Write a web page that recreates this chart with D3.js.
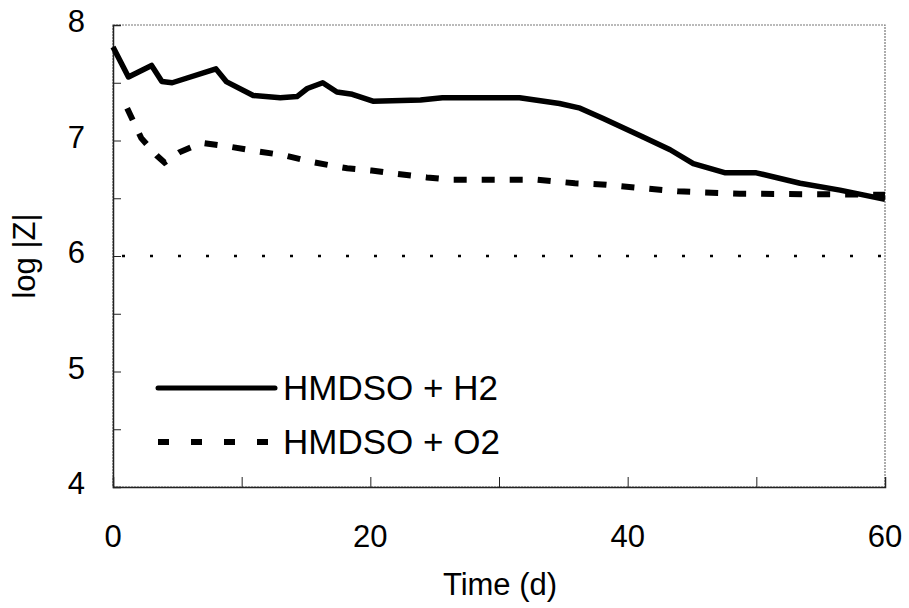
<!DOCTYPE html>
<html>
<head>
<meta charset="utf-8">
<script src="https://cdn.jsdelivr.net/npm/d3@7"></script>
<style>
  body { margin: 0; background: #fff; }
  svg text { font-family: "Liberation Sans", Arial, sans-serif; fill: #000; }
</style>
</head>
<body>
<div class="svg-container"></div>
<script>
'use strict';

// data
var daysH2 = [0, 1.2, 3.0, 3.8, 4.6, 8.0, 8.8, 10.9, 13.0, 14.3, 15.1, 16.3, 17.4, 18.6, 20.2,
              23.9, 25.6, 31.6, 34.7, 36.3, 38.1, 41.2, 43.3, 45.1, 47.6, 50, 53.4, 56.5, 60];
var logZH2 = [7.81, 7.55, 7.65, 7.51, 7.50, 7.62, 7.51, 7.39, 7.37, 7.38, 7.45, 7.50, 7.42, 7.40, 7.34,
              7.35, 7.37, 7.37, 7.32, 7.28, 7.19, 7.03, 6.92, 6.80, 6.72, 6.72, 6.63, 6.57, 6.49];
var daysO2 = [1.1, 2.2, 3.4, 4.0, 5.2, 6.9, 8.9, 11.0, 13.4, 15.2, 17.1, 18.2, 20.1, 22.1, 24.4,
              26.3, 33.0, 35.9, 38.0, 40.9, 43.9, 46.0, 48.7, 60];
var logZO2 = [7.28, 7.02, 6.87, 6.81, 6.90, 6.98, 6.95, 6.91, 6.87, 6.82, 6.78, 6.76, 6.74, 6.71, 6.68,
              6.66, 6.66, 6.63, 6.62, 6.59, 6.56, 6.55, 6.54, 6.53];
var seriesNames = ['HMDSO + H2', 'HMDSO + O2'];
var xTicks = [0, 10, 20, 30, 40, 50, 60];
var xTickLabels = [0, 20, 40, 60];
var yTicks = [4, 4.5, 5, 5.5, 6, 6.5, 7, 7.5, 8];
var yTickLabels = [4, 5, 6, 7, 8];
var refLevel = 6;

(function () {
  var width = 909, height = 608;
  var left = 113, right = 885, top = 25, bottom = 487;

  var x = d3.scaleLinear().domain([0, 60]).range([left, right]);
  var y = d3.scaleLinear().domain([4, 8]).range([bottom, top]);

  var svg = d3.select('.svg-container')
    .append('svg')
      .attr('width', width)
      .attr('height', height);

  // frame
  svg.append('rect')
      .attr('x', left).attr('y', top)
      .attr('width', right - left).attr('height', bottom - top)
      .attr('fill', 'none')
      .attr('stroke', '#777')
      .attr('stroke-width', 1.2)
      .attr('stroke-dasharray', '2,1');

  // axes, ticks pointing inward
  var xAxis = d3.axisBottom(x).tickValues(xTicks).tickSize(-10).tickFormat('');
  var yAxis = d3.axisLeft(y).tickValues(yTicks).tickSize(-8).tickFormat('');

  svg.append('g')
      .attr('transform', 'translate(0,' + bottom + ')')
      .call(xAxis)
      .call(function (g) {
        g.select('.domain').attr('stroke', '#222').attr('stroke-width', 1.5);
        g.selectAll('.tick line').attr('stroke', '#222');
      });
  svg.append('g')
      .attr('transform', 'translate(' + left + ',0)')
      .call(yAxis)
      .call(function (g) {
        g.select('.domain').attr('stroke', '#222').attr('stroke-width', 1.5);
        g.selectAll('.tick line').attr('stroke', '#222');
      });

  // tick labels
  svg.selectAll('.xlab')
      .data(xTickLabels)
    .enter().append('text')
      .attr('class', 'xlab')
      .attr('x', function (d) { return x(d); })
      .attr('y', 547)
      .attr('text-anchor', 'middle')
      .style('font-size', '31px')
      .text(function (d) { return d; });
  svg.selectAll('.ylab')
      .data(yTickLabels)
    .enter().append('text')
      .attr('class', 'ylab')
      .attr('x', 85)
      .attr('y', function (d) { return y(d) + 7; })
      .attr('text-anchor', 'end')
      .style('font-size', '31px')
      .text(function (d) { return d; });

  // axis titles
  svg.append('text')
      .attr('x', 500).attr('y', 595)
      .attr('text-anchor', 'middle')
      .style('font-size', '31px')
      .text('Time (d)');
  svg.append('text')
      .attr('transform', 'translate(35,256) rotate(-90)')
      .attr('text-anchor', 'middle')
      .style('font-size', '31px')
      .text('log |Z|');

  // reference level
  svg.append('line')
      .attr('x1', x(0)).attr('x2', x(60))
      .attr('y1', y(refLevel)).attr('y2', y(refLevel))
      .attr('stroke', '#000')
      .attr('stroke-width', 2.5)
      .attr('stroke-dasharray', '3,25')
      .attr('stroke-dashoffset', -9);

  var line = d3.line()
      .x(function (d) { return x(d[0]); })
      .y(function (d) { return y(d[1]); });

  svg.append('path')
      .datum(d3.zip(daysH2, logZH2))
      .attr('d', line)
      .attr('fill', 'none')
      .attr('stroke', '#000')
      .attr('stroke-width', 5.5)
      .attr('stroke-linejoin', 'round');

  svg.append('path')
      .datum(d3.zip(daysO2, logZO2))
      .attr('d', line)
      .attr('fill', 'none')
      .attr('stroke', '#000')
      .attr('stroke-width', 6)
      .attr('stroke-dasharray', '13,15');

  // legend
  var legend = svg.append('g');
  var styles = [{ dash: null, w: 5, y: 388 }, { dash: '11,22', w: 6, y: 442 }];
  seriesNames.forEach(function (name, i) {
    legend.append('line')
        .attr('x1', 158).attr('x2', i === 0 ? 275 : 268)
        .attr('y1', styles[i].y).attr('y2', styles[i].y)
        .attr('stroke', '#000')
        .attr('stroke-width', styles[i].w)
        .attr('stroke-linecap', i === 0 ? 'round' : 'butt')
        .attr('stroke-dasharray', styles[i].dash);
    legend.append('text')
        .attr('x', 283).attr('y', styles[i].y + 7 + 5)
        .style('font-size', '35px')
        .text(name);
  });
})();
</script>
</body>
</html>
